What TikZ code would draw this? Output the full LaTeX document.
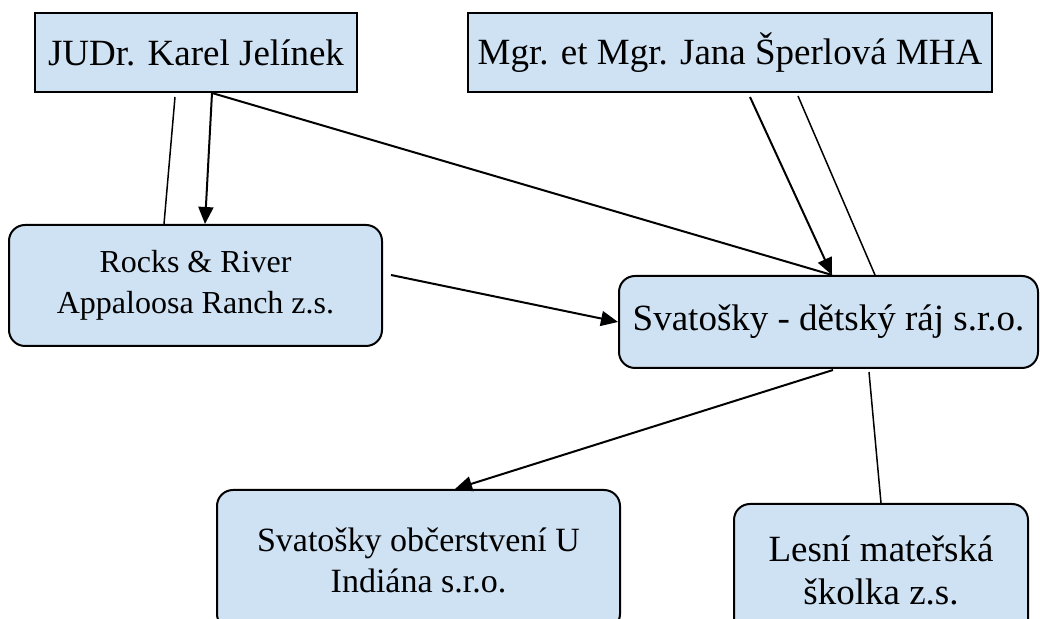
\documentclass[tikz,border=0pt]{standalone}
\usepackage{fontspec}
\setmainfont{Liberation Serif}
\usetikzlibrary{arrows.meta}
\definecolor{boxblue}{RGB}{207,226,243}
\tikzset{
	osoba/.style={draw,fill=boxblue,line width=1pt,inner sep=0pt,align=center,font=\fontsize{18.5}{22}\selectfont},
	firma/.style={osoba,rounded corners=8pt},
	vazba/.style={line width=0.75pt},
	sipka/.style={line width=1pt,-{Triangle[length=8.5pt,width=7.5pt]}}
}
\begin{document}
\begin{tikzpicture}[x=0.5pt,y=-0.5pt]
	\useasboundingbox (0,0) rectangle (1040,619);
	% people
	\node[osoba,minimum width=161pt,minimum height=39.5pt] (judr) at (196,52.5) {JUDr. Karel Jelínek};
	\node[osoba,minimum width=262pt,minimum height=39.5pt] (mgr) at (730,52.5) {Mgr. et Mgr. Jana Šperlová MHA};
	% companies
	\node[firma,minimum width=186.5pt,minimum height=60.5pt,font=\fontsize{16}{20.5}\selectfont] (rocks) at (195.5,285.5) {Rocks \& River\\Appaloosa Ranch z.s.};
	\node[firma,minimum width=209.5pt,minimum height=46pt] (svat) at (828.5,322) {Svatošky - dětský ráj s.r.o.};
	\node[firma,minimum width=201.5pt,minimum height=70pt,font=\fontsize{17}{20.5}\selectfont] (obc) at (418.5,560) {Svatošky občerstvení U\\Indiána s.r.o.};
	\node[firma,minimum width=147pt,minimum height=66pt,font=\fontsize{18.5}{21.5}\selectfont] (lesni) at (881,570) {Lesní mateřská\\školka z.s.};
	
	\draw[vazba] ([shift={(-21,4)}]judr.south) -- ([shift={(-31.5,0)}]rocks.north);
	\draw[sipka] ([shift={(16,0)}]judr.south) -- ([shift={(9.5,0)}]rocks.north);
	\draw[vazba,line width=1pt] ([shift={(16,0)}]judr.south) -- ([shift={(3.5,0)}]svat.north);
	\draw[sipka] ([shift={(20,4)}]mgr.south) -- ([shift={(3.5,0)}]svat.north);
	\draw[vazba] ([shift={(68,3)}]mgr.south) -- ([shift={(46.5,0)}]svat.north);
	\draw[sipka] ([shift={(8,-10.5)}]rocks.east) -- (svat.west);
	\draw[sipka] ([shift={(4.5,1)}]svat.south) -- ([shift={(36.5,0)}]obc.north);
	\draw[vazba] ([shift={(40.5,3)}]svat.south) -- (lesni.north);
\end{tikzpicture}
\end{document}
